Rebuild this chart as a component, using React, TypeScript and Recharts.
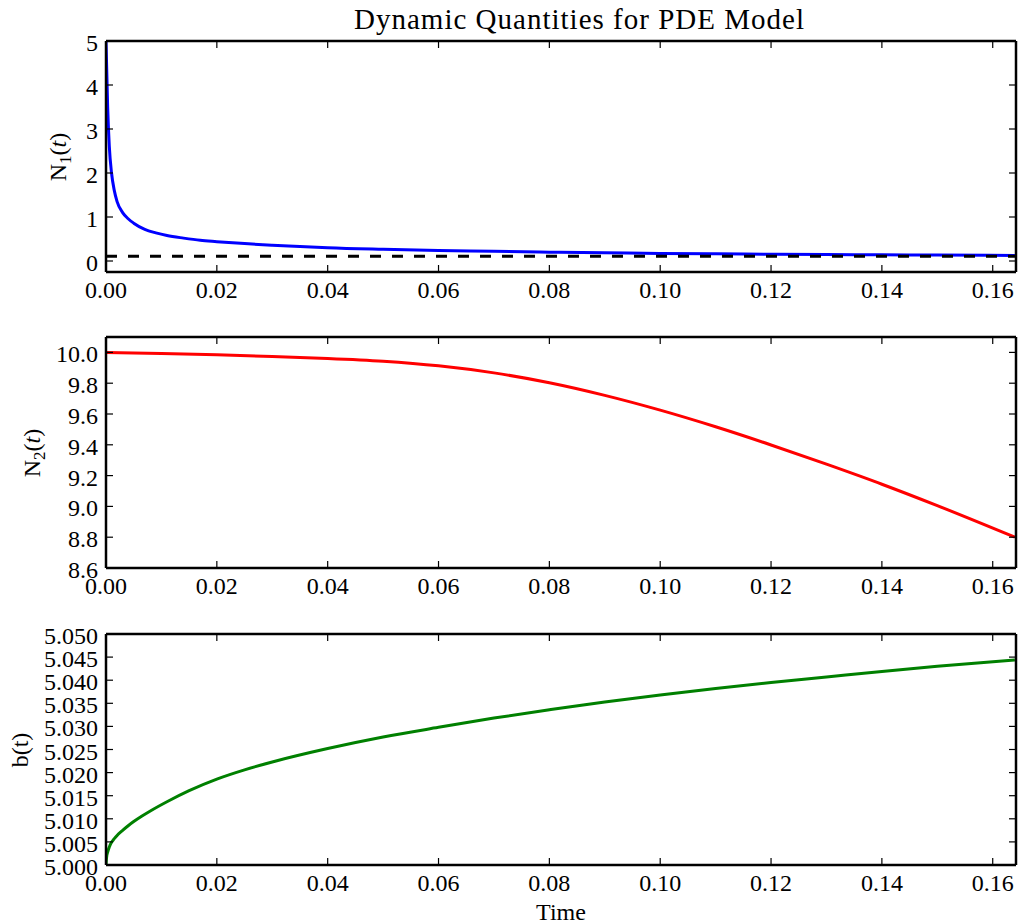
import { LineChart, Line, XAxis, YAxis, ReferenceLine } from "recharts";

const FONT = "'Liberation Serif', 'DejaVu Serif', serif";

const TIME_TICKS = [0, 0.02, 0.04, 0.06, 0.08, 0.1, 0.12, 0.14, 0.16];
const T_MAX = 0.1642;

// N1(t): fast initial decay from 5
const N1_TIME = [
  0, 0.0003, 0.0006, 0.001, 0.0015, 0.002, 0.003, 0.004, 0.005, 0.007, 0.009,
  0.011, 0.014, 0.017, 0.02, 0.025, 0.03, 0.035, 0.04, 0.05, 0.06, 0.07, 0.08,
  0.09, 0.1, 0.11, 0.12, 0.13, 0.14, 0.15, 0.164,
];
const N1_VALUES = [
  5.0, 3.5, 2.6, 2.0, 1.6, 1.35, 1.1, 0.96, 0.86, 0.72, 0.64, 0.58, 0.52, 0.47,
  0.44, 0.395, 0.36, 0.33, 0.3, 0.265, 0.24, 0.22, 0.2, 0.185, 0.172, 0.162,
  0.153, 0.146, 0.14, 0.134, 0.127,
];
const N1_STEADY = 0.107;
const N1_TICKS = [0, 1, 2, 3, 4, 5];

// N2(t)
const N2_TIME = [
  0, 0.01, 0.02, 0.03, 0.04, 0.05, 0.06, 0.07, 0.08, 0.09, 0.1, 0.11, 0.12,
  0.13, 0.14, 0.15, 0.164,
];
const N2_VALUES = [
  10.0, 9.993, 9.984, 9.973, 9.961, 9.943, 9.913, 9.867, 9.803, 9.721, 9.625,
  9.517, 9.399, 9.274, 9.144, 9.005, 8.8,
];
const N2_TICKS = [8.6, 8.8, 9.0, 9.2, 9.4, 9.6, 9.8, 10.0];

// b(t)
const B_TIME = [
  0, 0.0001, 0.0003, 0.0006, 0.001, 0.0015, 0.002, 0.003, 0.004, 0.005, 0.0065,
  0.008, 0.011, 0.015, 0.02, 0.025, 0.03, 0.04, 0.05, 0.06, 0.07, 0.08, 0.09,
  0.1, 0.11, 0.12, 0.13, 0.14, 0.15, 0.164,
];
const B_VALUES = [
  5.0, 5.0016, 5.0028, 5.0039, 5.0049, 5.0057, 5.0064, 5.0075, 5.0085, 5.0094,
  5.0106, 5.0117, 5.0137, 5.0161, 5.0186, 5.0206, 5.0223, 5.0252, 5.0277,
  5.0298, 5.0318, 5.0336, 5.0353, 5.0368, 5.0382, 5.0395, 5.0407, 5.0419,
  5.043, 5.0444,
];
const B_TICKS = [
  5.0, 5.005, 5.01, 5.015, 5.02, 5.025, 5.03, 5.035, 5.04, 5.045, 5.05,
];

const zip = (ts: number[], vs: number[]) => ts.map((t, i) => ({ t, v: vs[i] }));

const AXIS_LINE = { stroke: "#000", strokeWidth: 2.5 };
const TICK_LEN = 7;

function BottomTick({ x, y, payload }: any) {
  return (
    <g>
      <line x1={x} x2={x} y1={y} y2={y - TICK_LEN} stroke="#000" strokeWidth={1.2} />
      <text x={x} y={y + 26} textAnchor="middle" fontFamily={FONT} fontSize={24} fill="#000">
        {Number(payload.value).toFixed(2)}
      </text>
    </g>
  );
}

function TopTick({ x, y }: any) {
  return <line x1={x} x2={x} y1={y} y2={y + TICK_LEN} stroke="#000" strokeWidth={1.2} />;
}

function RightTick({ x, y }: any) {
  return <line x1={x} x2={x - TICK_LEN} y1={y} y2={y} stroke="#000" strokeWidth={1.2} />;
}

function makeLeftTick(digits: number) {
  return function LeftTick({ x, y, payload }: any) {
    return (
      <g>
        <line x1={x} x2={x + TICK_LEN} y1={y} y2={y} stroke="#000" strokeWidth={1.2} />
        <text x={x - 8} y={y + 10} textAnchor="end" fontFamily={FONT} fontSize={24} fill="#000">
          {Number(payload.value).toFixed(digits)}
        </text>
      </g>
    );
  };
}

interface PanelProps {
  top: number;
  marginTop: number;
  marginBottom: number;
  data: { t: number; v: number }[];
  color: string;
  domain: [number, number];
  ticks: number[];
  digits: number;
  steady?: number;
}

function Panel({ top, marginTop, marginBottom, data, color, domain, ticks, digits, steady }: PanelProps) {
  const LeftTick = makeLeftTick(digits);
  const height = marginTop + 231 + 30 + marginBottom;
  return (
    <div style={{ position: "absolute", left: 0, top }}>
      <LineChart
        width={1018}
        height={height}
        data={data}
        margin={{ top: marginTop - 1, right: 1, bottom: marginBottom, left: 0 }}
      >
        <XAxis
          dataKey="t"
          type="number"
          domain={[0, T_MAX]}
          allowDataOverflow
          ticks={TIME_TICKS}
          interval={0}
          height={30}
          tickSize={0}
          tickMargin={0}
          tickLine={false}
          axisLine={AXIS_LINE}
          tick={(p: any) => <BottomTick {...p} />}
        />
        <XAxis
          xAxisId="top"
          orientation="top"
          dataKey="t"
          type="number"
          domain={[0, T_MAX]}
          allowDataOverflow
          ticks={TIME_TICKS}
          interval={0}
          height={1}
          tickSize={0}
          tickMargin={0}
          tickLine={false}
          axisLine={AXIS_LINE}
          tick={(p: any) => <TopTick {...p} />}
        />
        <YAxis
          type="number"
          domain={domain}
          allowDataOverflow
          ticks={ticks}
          interval={0}
          width={106}
          tickSize={0}
          tickMargin={0}
          tickLine={false}
          axisLine={AXIS_LINE}
          tick={(p: any) => <LeftTick {...p} />}
        />
        <YAxis
          yAxisId="right"
          orientation="right"
          type="number"
          domain={domain}
          allowDataOverflow
          ticks={ticks}
          interval={0}
          width={1}
          tickSize={0}
          tickMargin={0}
          tickLine={false}
          axisLine={AXIS_LINE}
          tick={(p: any) => <RightTick {...p} />}
        />
        <Line
          type="monotone"
          dataKey="v"
          stroke={color}
          strokeWidth={3}
          dot={false}
          isAnimationActive={false}
        />
        {steady !== undefined && (
          <ReferenceLine y={steady} stroke="#000" strokeWidth={3} strokeDasharray="11 11" />
        )}
      </LineChart>
    </div>
  );
}

export default function App() {
  return (
    <div
      style={{
        position: "absolute",
        left: 0,
        top: 0,
        width: 1018,
        height: 924,
        background: "#fff",
        overflow: "hidden",
      }}
    >
      <Panel
        top={0}
        marginTop={41}
        marginBottom={0}
        data={zip(N1_TIME, N1_VALUES)}
        color="#0000ff"
        domain={[-0.25, 5]}
        ticks={N1_TICKS}
        digits={0}
        steady={N1_STEADY}
      />
      <Panel
        top={302}
        marginTop={35}
        marginBottom={0}
        data={zip(N2_TIME, N2_VALUES)}
        color="#ff0000"
        domain={[8.6, 10.1]}
        ticks={N2_TICKS}
        digits={1}
      />
      <Panel
        top={598}
        marginTop={36}
        marginBottom={29}
        data={zip(B_TIME, B_VALUES)}
        color="#008000"
        domain={[5.0, 5.05]}
        ticks={B_TICKS}
        digits={3}
      />
      <svg
        width={1018}
        height={924}
        style={{ position: "absolute", left: 0, top: 0, pointerEvents: "none" }}
        fontFamily={FONT}
        fill="#000"
      >
        <text x={579} y={29} textAnchor="middle" fontSize={29} textLength={450} lengthAdjust="spacing">
          Dynamic Quantities for PDE Model
        </text>
        <text transform="translate(66,157) rotate(-90)" textAnchor="middle" fontSize={24}>
          N<tspan dy={5} fontSize={17}>1</tspan>
          <tspan dy={-5}>(</tspan>
          <tspan fontStyle="italic">t</tspan>
          <tspan>)</tspan>
        </text>
        <text transform="translate(40,453) rotate(-90)" textAnchor="middle" fontSize={24}>
          N<tspan dy={5} fontSize={17}>2</tspan>
          <tspan dy={-5}>(</tspan>
          <tspan fontStyle="italic">t</tspan>
          <tspan>)</tspan>
        </text>
        <text transform="translate(28,750) rotate(-90)" textAnchor="middle" fontSize={24}>
          b(t)
        </text>
        <text x={561} y={920} textAnchor="middle" fontSize={24}>
          Time
        </text>
      </svg>
    </div>
  );
}
